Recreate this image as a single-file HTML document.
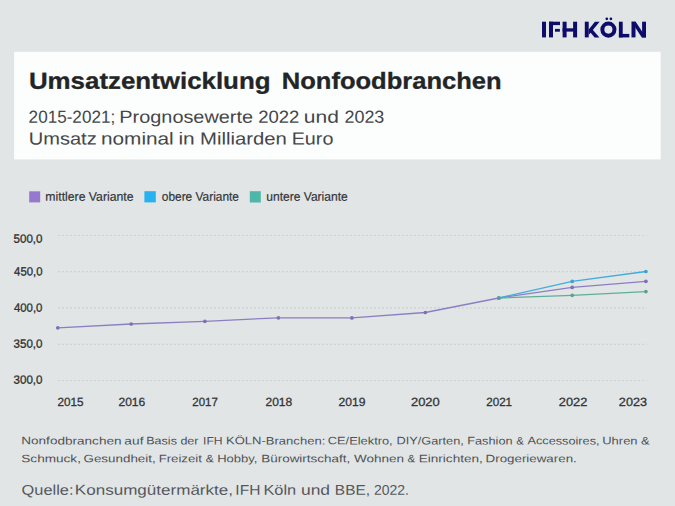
<!DOCTYPE html>
<html><head><meta charset="utf-8">
<style>
html,body{margin:0;padding:0;width:675px;height:506px;overflow:hidden;background:#e1e5e6;}
svg{display:block;font-family:"Liberation Sans",sans-serif;}
</style></head>
<body>
<svg width="675" height="506" viewBox="0 0 675 506">
<rect x="0" y="0" width="675" height="506" fill="#e1e5e6"/>
<g fill="#0e0c6a">
<rect x="542" y="21.7" width="4" height="15.7"/>
<rect x="549" y="21.7" width="4" height="15.7"/>
<rect x="549" y="21.7" width="11" height="3.4"/>
<rect x="555" y="28.9" width="4.9" height="2.8"/>
<rect x="562.6" y="21.7" width="4" height="15.7"/>
<rect x="573.1" y="21.7" width="4" height="15.7"/>
<rect x="562.6" y="28.3" width="14.3" height="3.3"/>
<rect x="584.8" y="21.7" width="3.9" height="15.7"/>
<polygon points="588.7,29.6 594.9,21.7 599.6,21.7 588.7,35.0"/>
<polygon points="591.6,28.6 599.4,37.4 594.6,37.4 589.6,31.4"/>
<circle cx="608.4" cy="29.6" r="6.05" fill="none" stroke="#0e0c6a" stroke-width="4.0"/>
<circle cx="606.8" cy="18.8" r="1.35"/>
<circle cx="610.9" cy="18.8" r="1.35"/>
<rect x="618.9" y="21.7" width="3.8" height="15.7"/>
<rect x="618.9" y="33.9" width="10.4" height="3.5"/>
<rect x="631.5" y="21.7" width="4" height="15.7"/>
<rect x="642.1" y="21.7" width="3.9" height="15.7"/>
<polygon points="631.5,21.7 635.7,21.7 646,37.4 641.8,37.4"/>
</g>
<rect x="14.1" y="51.8" width="646.6" height="107.6" fill="#fcfdfd"/>
<rect x="29.2" y="191.3" width="11" height="11.1" fill="#9679cf"/>
<rect x="144.4" y="191.2" width="11.4" height="11.2" fill="#27b1ee"/>
<rect x="249.8" y="191.2" width="11" height="11.3" fill="#4fb7a9"/>
<g stroke="#cdd1d3" stroke-width="1.2" stroke-dasharray="2 2">
<line x1="58" y1="235.5" x2="646.5" y2="235.5"/>
<line x1="58" y1="271.7" x2="646.5" y2="271.7"/>
<line x1="58" y1="307.9" x2="646.5" y2="307.9"/>
<line x1="58" y1="344.4" x2="646.5" y2="344.4"/>
<line x1="58" y1="380.5" x2="646.5" y2="380.5"/>
</g>
<g fill="none" stroke-width="1.3" stroke-linejoin="round">
<polyline stroke="#8c7ec2" points="57.8,327.8 131.2,324 204.9,321.3 278.4,317.8 351.9,317.9 425.3,312.5 498.8,298 572.2,287.4 645.9,281.3"/>
<polyline stroke="#42acdb" points="498.8,298 572.2,281.4 645.9,271.5"/>
<polyline stroke="#5fad9b" points="498.8,298 572.2,295.3 645.9,291.6"/>
</g>
<g fill="#7e6fb6">
<circle cx="57.8" cy="327.8" r="1.85"/><circle cx="131.2" cy="324" r="1.85"/><circle cx="204.9" cy="321.3" r="1.85"/><circle cx="278.4" cy="317.8" r="1.85"/><circle cx="351.9" cy="317.9" r="1.85"/><circle cx="425.3" cy="312.5" r="1.85"/><circle cx="498.8" cy="298" r="1.85"/><circle cx="572.2" cy="287.4" r="1.85"/><circle cx="645.9" cy="281.3" r="1.85"/>
</g>
<g fill="#3aa4d4"><circle cx="498.8" cy="298" r="1.85"/><circle cx="572.2" cy="281.4" r="1.85"/><circle cx="645.9" cy="271.5" r="1.85"/></g>
<g fill="#57a392"><circle cx="498.8" cy="298" r="1.85"/><circle cx="572.2" cy="295.3" r="1.85"/><circle cx="645.9" cy="291.6" r="1.85"/></g>
<text transform="rotate(0.05 149.8 88.8)" x="28.90" y="88.80" font-size="23.2" font-weight="bold" fill="#222426" textLength="241.69" lengthAdjust="spacingAndGlyphs" stroke="#222426" stroke-width="0.3" text-rendering="geometricPrecision">Umsatzentwicklung</text>
<text transform="rotate(0.05 391.9 88.8)" x="281.80" y="88.80" font-size="23.2" font-weight="bold" fill="#222426" textLength="219.80" lengthAdjust="spacingAndGlyphs" stroke="#222426" stroke-width="0.3" text-rendering="geometricPrecision">Nonfoodbranchen</text>
<text transform="rotate(0.05 71.8 122.8)" x="28.62" y="122.80" font-size="17.4" font-weight="normal" fill="#444648" textLength="86.58" lengthAdjust="spacingAndGlyphs" text-rendering="geometricPrecision">2015-2021;</text>
<text transform="rotate(0.05 186.6 122.8)" x="119.36" y="122.80" font-size="17.4" font-weight="normal" fill="#444648" textLength="133.65" lengthAdjust="spacingAndGlyphs" text-rendering="geometricPrecision">Prognosewerte</text>
<text transform="rotate(0.05 278.8 122.8)" x="258.22" y="122.80" font-size="17.4" font-weight="normal" fill="#444648" textLength="41.11" lengthAdjust="spacingAndGlyphs" text-rendering="geometricPrecision">2022</text>
<text transform="rotate(0.05 321.3 122.8)" x="303.84" y="122.80" font-size="17.4" font-weight="normal" fill="#444648" textLength="35.03" lengthAdjust="spacingAndGlyphs" text-rendering="geometricPrecision">und</text>
<text transform="rotate(0.05 364.6 122.8)" x="344.45" y="122.80" font-size="17.4" font-weight="normal" fill="#444648" textLength="39.88" lengthAdjust="spacingAndGlyphs" text-rendering="geometricPrecision">2023</text>
<text transform="rotate(0.05 62.9 144.6)" x="28.77" y="144.60" font-size="17.4" font-weight="normal" fill="#444648" textLength="67.92" lengthAdjust="spacingAndGlyphs" text-rendering="geometricPrecision">Umsatz</text>
<text transform="rotate(0.05 137.2 144.6)" x="101.00" y="144.60" font-size="17.4" font-weight="normal" fill="#444648" textLength="72.73" lengthAdjust="spacingAndGlyphs" text-rendering="geometricPrecision">nominal</text>
<text transform="rotate(0.05 186.7 144.6)" x="178.42" y="144.60" font-size="17.4" font-weight="normal" fill="#444648" textLength="16.27" lengthAdjust="spacingAndGlyphs" text-rendering="geometricPrecision">in</text>
<text transform="rotate(0.05 243.7 144.6)" x="200.04" y="144.60" font-size="17.4" font-weight="normal" fill="#444648" textLength="86.78" lengthAdjust="spacingAndGlyphs" text-rendering="geometricPrecision">Milliarden</text>
<text transform="rotate(0.05 312.9 144.6)" x="291.71" y="144.60" font-size="17.4" font-weight="normal" fill="#444648" textLength="41.64" lengthAdjust="spacingAndGlyphs" text-rendering="geometricPrecision">Euro</text>
<text transform="rotate(0.05 89.6 200.7)" x="45.36" y="200.70" font-size="12.5" font-weight="normal" fill="#333537" textLength="88.18" lengthAdjust="spacingAndGlyphs" stroke="#333537" stroke-width="0.2" text-rendering="geometricPrecision">mittlere Variante</text>
<text transform="rotate(0.05 200.4 200.7)" x="161.81" y="200.70" font-size="12.5" font-weight="normal" fill="#333537" textLength="77.20" lengthAdjust="spacingAndGlyphs" stroke="#333537" stroke-width="0.2" text-rendering="geometricPrecision">obere Variante</text>
<text transform="rotate(0.05 307.2 200.7)" x="266.33" y="200.70" font-size="12.5" font-weight="normal" fill="#333537" textLength="81.37" lengthAdjust="spacingAndGlyphs" stroke="#333537" stroke-width="0.2" text-rendering="geometricPrecision">untere Variante</text>
<text transform="rotate(0.05 28.2 242.7)" x="13.56" y="242.70" font-size="12.0" font-weight="normal" fill="#2e3032" textLength="28.97" lengthAdjust="spacingAndGlyphs" stroke="#2e3032" stroke-width="0.3" text-rendering="geometricPrecision">500,0</text>
<text transform="rotate(0.05 28.2 275.6)" x="14.11" y="275.60" font-size="12.0" font-weight="normal" fill="#2e3032" textLength="28.39" lengthAdjust="spacingAndGlyphs" stroke="#2e3032" stroke-width="0.3" text-rendering="geometricPrecision">450,0</text>
<text transform="rotate(0.05 28.2 311.8)" x="13.92" y="311.80" font-size="12.0" font-weight="normal" fill="#2e3032" textLength="28.53" lengthAdjust="spacingAndGlyphs" stroke="#2e3032" stroke-width="0.3" text-rendering="geometricPrecision">400,0</text>
<text transform="rotate(0.05 28.2 347.8)" x="13.56" y="347.80" font-size="12.0" font-weight="normal" fill="#2e3032" textLength="28.97" lengthAdjust="spacingAndGlyphs" stroke="#2e3032" stroke-width="0.3" text-rendering="geometricPrecision">350,0</text>
<text transform="rotate(0.05 28.2 383.8)" x="13.56" y="383.80" font-size="12.0" font-weight="normal" fill="#2e3032" textLength="28.97" lengthAdjust="spacingAndGlyphs" stroke="#2e3032" stroke-width="0.3" text-rendering="geometricPrecision">300,0</text>
<text transform="rotate(0.05 70.7 405.9)" x="57.59" y="405.90" font-size="11.9" font-weight="normal" fill="#333537" textLength="26.04" lengthAdjust="spacingAndGlyphs" stroke="#333537" stroke-width="0.3" text-rendering="geometricPrecision">2015</text>
<text transform="rotate(0.05 131.8 405.9)" x="118.45" y="405.90" font-size="11.9" font-weight="normal" fill="#333537" textLength="26.79" lengthAdjust="spacingAndGlyphs" stroke="#333537" stroke-width="0.3" text-rendering="geometricPrecision">2016</text>
<text transform="rotate(0.05 205.2 405.9)" x="192.27" y="405.90" font-size="11.9" font-weight="normal" fill="#333537" textLength="25.55" lengthAdjust="spacingAndGlyphs" stroke="#333537" stroke-width="0.3" text-rendering="geometricPrecision">2017</text>
<text transform="rotate(0.05 278.9 405.9)" x="265.49" y="405.90" font-size="11.9" font-weight="normal" fill="#333537" textLength="26.70" lengthAdjust="spacingAndGlyphs" stroke="#333537" stroke-width="0.3" text-rendering="geometricPrecision">2018</text>
<text transform="rotate(0.05 352.0 405.9)" x="338.56" y="405.90" font-size="11.9" font-weight="normal" fill="#333537" textLength="26.88" lengthAdjust="spacingAndGlyphs" stroke="#333537" stroke-width="0.3" text-rendering="geometricPrecision">2019</text>
<text transform="rotate(0.05 425.5 405.9)" x="410.99" y="405.90" font-size="11.9" font-weight="normal" fill="#333537" textLength="28.72" lengthAdjust="spacingAndGlyphs" stroke="#333537" stroke-width="0.3" text-rendering="geometricPrecision">2020</text>
<text transform="rotate(0.05 499.1 405.9)" x="486.20" y="405.90" font-size="11.9" font-weight="normal" fill="#333537" textLength="25.88" lengthAdjust="spacingAndGlyphs" stroke="#333537" stroke-width="0.3" text-rendering="geometricPrecision">2021</text>
<text transform="rotate(0.05 573.0 405.9)" x="558.89" y="405.90" font-size="11.9" font-weight="normal" fill="#333537" textLength="28.43" lengthAdjust="spacingAndGlyphs" stroke="#333537" stroke-width="0.3" text-rendering="geometricPrecision">2022</text>
<text transform="rotate(0.05 633.0 405.9)" x="618.88" y="405.90" font-size="11.9" font-weight="normal" fill="#333537" textLength="28.07" lengthAdjust="spacingAndGlyphs" stroke="#333537" stroke-width="0.3" text-rendering="geometricPrecision">2023</text>
<text transform="rotate(0.05 71.5 444.4)" x="21.26" y="444.40" font-size="10.8" font-weight="normal" fill="#505254" textLength="100.28" lengthAdjust="spacingAndGlyphs" text-rendering="geometricPrecision">Nonfodbranchen</text>
<text transform="rotate(0.05 134.2 444.4)" x="124.38" y="444.40" font-size="10.8" font-weight="normal" fill="#505254" textLength="19.09" lengthAdjust="spacingAndGlyphs" text-rendering="geometricPrecision">auf</text>
<text transform="rotate(0.05 172.8 444.4)" x="146.22" y="444.40" font-size="10.8" font-weight="normal" fill="#505254" textLength="52.32" lengthAdjust="spacingAndGlyphs" text-rendering="geometricPrecision">Basis der</text>
<text transform="rotate(0.05 212.9 444.4)" x="203.04" y="444.40" font-size="10.8" font-weight="normal" fill="#505254" textLength="19.58" lengthAdjust="spacingAndGlyphs" text-rendering="geometricPrecision">IFH</text>
<text transform="rotate(0.05 275.6 444.4)" x="225.99" y="444.40" font-size="10.8" font-weight="normal" fill="#505254" textLength="99.28" lengthAdjust="spacingAndGlyphs" text-rendering="geometricPrecision">KÖLN-Branchen:</text>
<text transform="rotate(0.05 360.0 444.4)" x="327.77" y="444.40" font-size="10.8" font-weight="normal" fill="#505254" textLength="64.93" lengthAdjust="spacingAndGlyphs" text-rendering="geometricPrecision">CE/Elektro,</text>
<text transform="rotate(0.05 429.9 444.4)" x="396.43" y="444.40" font-size="10.8" font-weight="normal" fill="#505254" textLength="67.37" lengthAdjust="spacingAndGlyphs" text-rendering="geometricPrecision">DIY/Garten,</text>
<text transform="rotate(0.05 489.9 444.4)" x="467.21" y="444.40" font-size="10.8" font-weight="normal" fill="#505254" textLength="45.38" lengthAdjust="spacingAndGlyphs" text-rendering="geometricPrecision">Fashion</text>
<text transform="rotate(0.05 520.2 444.4)" x="516.18" y="444.40" font-size="10.8" font-weight="normal" fill="#505254" textLength="7.58" lengthAdjust="spacingAndGlyphs" text-rendering="geometricPrecision">&amp;</text>
<text transform="rotate(0.05 563.2 444.4)" x="527.51" y="444.40" font-size="10.8" font-weight="normal" fill="#505254" textLength="72.01" lengthAdjust="spacingAndGlyphs" text-rendering="geometricPrecision">Accessoires,</text>
<text transform="rotate(0.05 626.5 444.4)" x="602.28" y="444.40" font-size="10.8" font-weight="normal" fill="#505254" textLength="47.50" lengthAdjust="spacingAndGlyphs" text-rendering="geometricPrecision">Uhren &amp;</text>
<text transform="rotate(0.05 51.0 462.3)" x="21.29" y="462.30" font-size="10.8" font-weight="normal" fill="#505254" textLength="59.67" lengthAdjust="spacingAndGlyphs" text-rendering="geometricPrecision">Schmuck,</text>
<text transform="rotate(0.05 119.5 462.3)" x="83.51" y="462.30" font-size="10.8" font-weight="normal" fill="#505254" textLength="72.23" lengthAdjust="spacingAndGlyphs" text-rendering="geometricPrecision">Gesundheit,</text>
<text transform="rotate(0.05 180.7 462.3)" x="158.67" y="462.30" font-size="10.8" font-weight="normal" fill="#505254" textLength="43.22" lengthAdjust="spacingAndGlyphs" text-rendering="geometricPrecision">Freizeit</text>
<text transform="rotate(0.05 209.8 462.3)" x="205.75" y="462.30" font-size="10.8" font-weight="normal" fill="#505254" textLength="8.01" lengthAdjust="spacingAndGlyphs" text-rendering="geometricPrecision">&amp;</text>
<text transform="rotate(0.05 237.3 462.3)" x="217.19" y="462.30" font-size="10.8" font-weight="normal" fill="#505254" textLength="40.30" lengthAdjust="spacingAndGlyphs" text-rendering="geometricPrecision">Hobby,</text>
<text transform="rotate(0.05 305.8 462.3)" x="261.28" y="462.30" font-size="10.8" font-weight="normal" fill="#505254" textLength="88.86" lengthAdjust="spacingAndGlyphs" text-rendering="geometricPrecision">Bürowirtschaft,</text>
<text transform="rotate(0.05 378.6 462.3)" x="353.90" y="462.30" font-size="10.8" font-weight="normal" fill="#505254" textLength="50.15" lengthAdjust="spacingAndGlyphs" text-rendering="geometricPrecision">Wohnen</text>
<text transform="rotate(0.05 411.4 462.3)" x="407.41" y="462.30" font-size="10.8" font-weight="normal" fill="#505254" textLength="7.64" lengthAdjust="spacingAndGlyphs" text-rendering="geometricPrecision">&amp;</text>
<text transform="rotate(0.05 450.8 462.3)" x="418.74" y="462.30" font-size="10.8" font-weight="normal" fill="#505254" textLength="64.05" lengthAdjust="spacingAndGlyphs" text-rendering="geometricPrecision">Einrichten,</text>
<text transform="rotate(0.05 531.4 462.3)" x="485.61" y="462.30" font-size="10.8" font-weight="normal" fill="#505254" textLength="91.15" lengthAdjust="spacingAndGlyphs" text-rendering="geometricPrecision">Drogeriewaren.</text>
<text transform="rotate(0.05 47.0 494.7)" x="21.57" y="494.70" font-size="14.1" font-weight="normal" fill="#55575a" textLength="51.90" lengthAdjust="spacingAndGlyphs" text-rendering="geometricPrecision">Quelle:</text>
<text transform="rotate(0.05 153.8 494.7)" x="74.80" y="494.70" font-size="14.1" font-weight="normal" fill="#55575a" textLength="158.23" lengthAdjust="spacingAndGlyphs" text-rendering="geometricPrecision">Konsumgütermärkte,</text>
<text transform="rotate(0.05 248.2 494.7)" x="235.36" y="494.70" font-size="14.1" font-weight="normal" fill="#55575a" textLength="24.99" lengthAdjust="spacingAndGlyphs" text-rendering="geometricPrecision">IFH</text>
<text transform="rotate(0.05 280.0 494.7)" x="263.42" y="494.70" font-size="14.1" font-weight="normal" fill="#55575a" textLength="32.77" lengthAdjust="spacingAndGlyphs" text-rendering="geometricPrecision">Köln</text>
<text transform="rotate(0.05 315.4 494.7)" x="300.94" y="494.70" font-size="14.1" font-weight="normal" fill="#55575a" textLength="29.09" lengthAdjust="spacingAndGlyphs" text-rendering="geometricPrecision">und</text>
<text transform="rotate(0.05 352.4 494.7)" x="334.85" y="494.70" font-size="14.1" font-weight="normal" fill="#55575a" textLength="35.16" lengthAdjust="spacingAndGlyphs" text-rendering="geometricPrecision">BBE,</text>
<text transform="rotate(0.05 391.3 494.7)" x="373.91" y="494.70" font-size="14.1" font-weight="normal" fill="#55575a" textLength="35.02" lengthAdjust="spacingAndGlyphs" text-rendering="geometricPrecision">2022.</text>
</svg>
</body></html>
